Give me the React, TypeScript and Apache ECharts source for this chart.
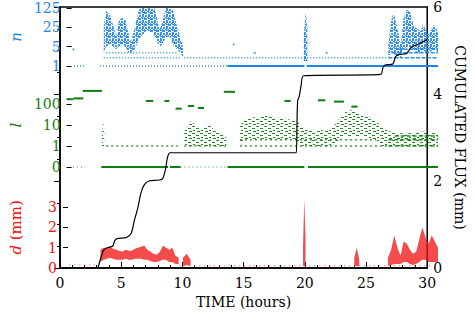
import { useEffect, useRef } from "react";
import * as echarts from "echarts";

// ---------- tick labels ----------
const xTickStep = 5;
const nTicks = [1, 5, 25, 125];
const lTicks = [0, 1, 10, 100];
const dTicks = [0, 1, 2, 3];
const fluxTickStep = 2;

// ---------- cumulated flux (mm) ----------
const fluxTime = [3.1, 3.3, 3.57, 3.9, 4.3, 4.5, 4.76, 5.42, 5.82, 6.08, 6.35, 6.61, 6.88, 7.27, 8.33, 8.6, 8.8, 9.0, 19.3, 19.36, 19.42, 19.55, 19.7, 19.9, 26.2, 26.4, 26.6, 27.2, 27.4, 27.6, 28.3, 28.5, 28.7, 29.3, 30];
const fluxValue = [0, 0.2, 0.41, 0.47, 0.5, 0.64, 0.68, 0.7, 0.8, 1.1, 1.37, 1.72, 1.91, 2.0, 2.04, 2.25, 2.56, 2.65, 2.65, 3.3, 3.85, 3.95, 4.2, 4.42, 4.45, 4.62, 4.67, 4.69, 4.85, 4.9, 4.93, 5.0, 5.08, 5.15, 5.25];

// ---------- n : clouds [time, low, high] ----------
const nCloudEarly = [[3.0, 3, 30], [3.2, 5, 100], [3.5, 6, 70], [3.8, 5, 25], [4.0, 4, 12], [4.2, 5, 40], [4.5, 6, 60], [4.75, 5, 45], [5.0, 3, 15], [5.2, 3, 7], [5.5, 4, 25], [5.8, 8, 90], [6.0, 12, 150], [6.5, 20, 160], [7.0, 15, 150], [7.2, 10, 90], [7.5, 5, 20], [7.7, 6, 35], [8.0, 10, 120], [8.3, 12, 160], [8.6, 6, 100], [8.9, 4, 30], [9.2, 3, 10], [9.4, 2, 5]];
const nCloudSpike = [[19.15, 1.5, 10], [19.3, 1.5, 80], [19.45, 1.5, 25]];
const nCloudLate = [[26.0, 2, 6], [26.2, 3, 40], [26.4, 3, 90], [26.7, 2, 25], [27.0, 2, 6], [27.2, 4, 50], [27.5, 5, 110], [27.8, 5, 80], [28.0, 4, 30], [28.3, 3, 22], [28.6, 3, 18], [28.8, 4, 35], [29.0, 3, 20], [29.3, 3, 14], [29.6, 4, 30], [29.8, 4, 28], [30.0, 3, 15]];
// n : rows [t0, t1, n]
const nRowsSolid = [[13.0, 19.2, 1], [19.4, 30, 1]];
const nRowsDotted = [[0.6, 1.5, 1], [2.7, 13.0, 1], [3.0, 9.2, 2], [3.2, 9.0, 3], [9.5, 26.0, 2]];
const nRowsDashed = [[26.0, 30, 2], [26.3, 30, 3], [26.8, 30, 4]];
const nDots = [[0.55, 4], [13.5, 6], [15.2, 3], [21.0, 3]];

// ---------- l : clouds [time, low, high] ----------
const lCloudEarly = [[2.85, 1, 3], [2.95, 1, 20], [3.05, 1, 4]];
const lCloudMid = [[9.5, 1, 6], [10.0, 1, 15], [10.5, 1, 10], [11.0, 1, 6], [11.5, 1, 12], [12.0, 1, 5], [12.5, 1, 4], [12.9, 1, 3]];
const lCloudMain = [[14.0, 1, 10], [14.5, 2, 20], [15.0, 2, 25], [15.5, 2, 20], [16.0, 2, 30], [16.5, 2, 25], [17.0, 2, 20], [17.5, 2, 25], [18.0, 2, 18], [18.5, 2, 15], [19.0, 1, 10], [19.5, 1, 6], [20.0, 1, 5], [20.5, 1, 6], [21.0, 1, 5], [21.5, 1, 8], [22.0, 2, 20], [22.5, 3, 40], [23.0, 3, 50], [23.5, 3, 35], [24.0, 3, 30], [24.5, 2, 25], [25.0, 2, 15], [25.5, 1, 8], [26.0, 1, 5], [27.0, 1, 4], [28.0, 1, 4], [29.0, 1, 5], [30.0, 1, 4]];
// l : rows [t0, t1, l]
const lHigh = [[0, 0.55, 170], [0.55, 1.35, 185], [1.3, 2.85, 420], [6.4, 7.0, 140], [7.9, 8.3, 140], [8.8, 9.3, 60], [9.8, 10.3, 80], [10.6, 11.1, 65], [12.7, 13.6, 380], [17.6, 18.1, 140], [20.3, 20.9, 150], [21.6, 22.4, 130], [23.0, 23.5, 75]];
const lZeroSolid = [[2.8, 8.2, 0], [8.35, 9.2, 0], [13.0, 19.2, 0], [19.5, 30, 0]];
const lZeroDotted = [[0.5, 1.5, 0], [9.2, 13.0, 0]];
const lRowsDotted = [[3.2, 9.0, 1], [9.5, 13.0, 1], [14.0, 26.0, 1], [14.0, 25.0, 2]];
const lRowsDashed = [[26.0, 30, 1], [26.0, 30, 2], [26.5, 30, 3]];

// ---------- d (mm) : clouds [time, low, high] ----------
const dCloudEarly = [[3.0, 0.3, 0.9], [3.25, 0.4, 1.0], [3.5, 0.45, 1.0], [3.75, 0.5, 1.05], [4.0, 0.45, 0.95], [4.25, 0.4, 0.9], [4.5, 0.4, 0.85], [4.75, 0.4, 0.8], [5.0, 0.45, 0.9], [5.25, 0.4, 0.85], [5.5, 0.4, 0.85], [5.75, 0.45, 0.95], [6.0, 0.45, 1.0], [6.25, 0.45, 1.05], [6.5, 0.4, 1.1], [6.75, 0.4, 0.9], [7.0, 0.35, 0.8], [7.25, 0.3, 0.7], [7.5, 0.3, 0.65], [7.75, 0.35, 0.8], [8.0, 0.4, 1.1], [8.25, 0.4, 1.0], [8.5, 0.3, 0.9], [8.75, 0.3, 1.0], [9.0, 0.2, 0.6], [9.25, 0.2, 0.5]];
const dCloudMid = [[9.6, 0.1, 0.5], [9.9, 0.15, 0.7], [10.2, 0.1, 0.4]];
const dCloudSpike = [[19.2, 0.1, 1.0], [19.3, 0.1, 3.4], [19.4, 0.1, 1.5]];
const dCloudSmall = [[23.3, 0.1, 0.5], [23.5, 0.1, 1.0], [23.7, 0.1, 0.4]];
const dCloudLate = [[26.0, 0.1, 0.5], [26.25, 0.15, 0.9], [26.5, 0.2, 1.6], [26.75, 0.2, 1.0], [27.0, 0.2, 0.6], [27.25, 0.3, 1.3], [27.5, 0.3, 1.2], [27.75, 0.2, 0.9], [28.0, 0.15, 0.7], [28.25, 0.2, 0.8], [28.5, 0.3, 1.4], [28.75, 0.4, 2.0], [29.0, 0.4, 1.5], [29.25, 0.3, 1.2], [29.5, 0.3, 1.6], [29.75, 0.3, 1.3], [30.0, 0.3, 1.0]];
const dRowsDotted = [[0.5, 2.8, 0.15], [9.3, 30, 0.12]];

// ---------- styling ----------
const BLUE = "#1c86e6";
const GREEN = "#0f7d0f";
const RED = "#f01010";
const FONT = "DejaVu Serif";

const ident = (v: number) => v;
const lT = (v: number) => (v === 0 ? -1 : Math.log10(v));

// texture marks (x, y, w, h) inside a small repeating tile
const speckleMarks = [[0, 0, 3, 2], [4, 0, 2, 1], [1, 3, 2, 2], [4, 2, 2, 3], [0, 5, 1, 1], [3, 5, 2, 1]];
const dashMarks = [[0, 0, 3, 1], [4, 2, 3, 1], [1, 4, 2, 1], [5, 5, 3, 1]];

function makePattern(color: string, w: number, h: number, marks: number[][]) {
  const c = document.createElement("canvas");
  c.width = w;
  c.height = h;
  const ctx = c.getContext("2d")!;
  ctx.fillStyle = color;
  marks.forEach((m) => ctx.fillRect(m[0], m[1], m[2], m[3]));
  return { image: c, repeat: "repeat", imageWidth: w, imageHeight: h };
}

function band(pieces: number[][][], xi: number, yi: number, tf: (v: number) => number, fill: any, opacity: number) {
  return {
    type: "custom", xAxisIndex: xi, yAxisIndex: yi, clip: true, silent: true,
    data: pieces.map((_, i) => [i]),
    renderItem: (params: any, api: any) => {
      const piece = pieces[params.dataIndex];
      const top = piece.map((p) => api.coord([p[0], tf(p[2])]));
      const bot = piece.slice().reverse().map((p) => api.coord([p[0], tf(p[1])]));
      return { type: "polygon", shape: { points: top.concat(bot) }, style: { fill, opacity } };
    },
  };
}

function rows(list: number[][], xi: number, yi: number, tf: (v: number) => number, color: string, width: number, dash: any, opacity = 1) {
  return {
    type: "custom", xAxisIndex: xi, yAxisIndex: yi, clip: false, silent: true,
    data: list.map((r) => [r[0], r[1], tf(r[2])]),
    encode: { x: [0, 1], y: 2 },
    renderItem: (params: any, api: any) => {
      const a = api.coord([api.value(0), api.value(2)]);
      const b = api.coord([api.value(1), api.value(2)]);
      return { type: "line", shape: { x1: a[0], y1: a[1], x2: b[0], y2: b[1] }, style: { stroke: color, lineWidth: width, lineDash: dash, opacity } };
    },
  };
}

const hiddenX = (gi: number) => ({ type: "value", gridIndex: gi, min: 0, max: 30, show: false });

export default function App() {
  const ref = useRef<HTMLDivElement>(null);
  useEffect(() => {
    document.body.style.margin = "0";
    const chart = echarts.init(ref.current!, null, { renderer: "svg" });
    const greenPattern = makePattern(GREEN, 8, 7, dashMarks);
    const bluePattern = makePattern("#2a8de8", 6, 6, speckleMarks);
    const tickStyle = { show: true, inside: true, length: 5, lineStyle: { color: "#000", width: 1 } };
    const option: any = {
      animation: false,
      backgroundColor: "#fff",
      grid: [
        { left: 60, top: 7, width: 378, height: 261, show: true, borderColor: "#000", borderWidth: 1.5, backgroundColor: "transparent" },
        { left: 60, top: 8, width: 378, height: 58 },
        { left: 60, top: 83, width: 378, height: 84 },
        { left: 60, top: 186.7, width: 378, height: 81.3 },
      ],
      xAxis: [
        {
          type: "value", gridIndex: 0, min: 0, max: 30, interval: xTickStep,
          axisLine: { show: true, lineStyle: { color: "#000", width: 1.5 } },
          axisTick: { show: true, inside: true, length: 6, lineStyle: { color: "#000" } },
          minorTick: { show: true, splitNumber: 5, length: 3, lineStyle: { color: "#000" } },
          splitLine: { show: false },
          axisLabel: { color: "#000", fontFamily: FONT, fontSize: 14, margin: 8 },
          name: "TIME (hours)", nameLocation: "middle", nameGap: 24,
          nameTextStyle: { color: "#000", fontFamily: FONT, fontSize: 14 },
        },
        hiddenX(1), hiddenX(2), hiddenX(3),
      ],
      yAxis: [
        {
          type: "log", logBase: 5, gridIndex: 1, min: nTicks[0], max: nTicks[nTicks.length - 1],
          axisLine: { show: false }, axisTick: tickStyle, splitLine: { show: false }, minorTick: { show: false },
          axisLabel: { color: BLUE, fontFamily: FONT, fontSize: 14, margin: 6, formatter: (v: number) => String(Math.round(v)) },
          name: "n", nameLocation: "middle", nameRotate: 90, nameGap: 40,
          nameTextStyle: { color: BLUE, fontFamily: FONT, fontSize: 15, fontStyle: "italic" },
        },
        {
          type: "value", gridIndex: 2, min: -1, max: 3,
          axisLine: { show: false },
          axisTick: { ...tickStyle, customValues: lTicks.map(lT) },
          splitLine: { show: false },
          axisLabel: { color: GREEN, fontFamily: FONT, fontSize: 14, margin: 6, customValues: lTicks.map(lT), formatter: (v: number) => (v < 0 ? "0" : String(Math.round(Math.pow(10, v)))) },
          name: "l", nameLocation: "middle", nameRotate: 90, nameGap: 40,
          nameTextStyle: { color: GREEN, fontFamily: FONT, fontSize: 15, fontStyle: "italic" },
        },
        {
          type: "value", gridIndex: 3, min: 0, max: 4,
          axisLine: { show: false },
          axisTick: { ...tickStyle, customValues: dTicks },
          splitLine: { show: false },
          axisLabel: { color: RED, fontFamily: FONT, fontSize: 14, margin: 6, customValues: dTicks },
          name: "{i|d} (mm)", nameLocation: "middle", nameRotate: 90, nameGap: 40,
          nameTextStyle: { color: RED, fontFamily: FONT, fontSize: 15, rich: { i: { fontStyle: "italic", color: RED, fontFamily: FONT, fontSize: 15 } } },
        },
        {
          type: "value", gridIndex: 0, position: "right", min: 0, max: 6, interval: fluxTickStep,
          axisLine: { show: true, lineStyle: { color: "#000", width: 1.5 } },
          axisTick: { show: true, inside: true, length: 6, lineStyle: { color: "#000" } },
          minorTick: { show: true, splitNumber: 4, length: 3, lineStyle: { color: "#000" } },
          splitLine: { show: false },
          axisLabel: { color: "#000", fontFamily: FONT, fontSize: 14, margin: 6 },
          name: "CUMULATED FLUX (mm)", nameLocation: "middle", nameRotate: -90, nameGap: 16,
          nameTextStyle: { color: "#000", fontFamily: FONT, fontSize: 14 },
        },
      ],
      series: [
        // n
        band([nCloudEarly, nCloudSpike, nCloudLate], 1, 0, ident, bluePattern, 0.95),
        rows(nRowsDotted, 1, 0, ident, BLUE, 1.5, [1, 2], 0.9),
        rows(nRowsDashed, 1, 0, ident, BLUE, 1.5, [4, 1.5], 0.9),
        rows(nRowsSolid, 1, 0, ident, BLUE, 2, null),
        { type: "scatter", xAxisIndex: 1, yAxisIndex: 0, data: nDots, symbolSize: 2, itemStyle: { color: BLUE }, silent: true },
        // l
        band([lCloudEarly, lCloudMid, lCloudMain], 2, 1, lT, greenPattern, 0.9),
        rows(lRowsDotted, 2, 1, lT, GREEN, 1.5, [2, 3], 0.8),
        rows(lRowsDashed, 2, 1, lT, GREEN, 1.5, [4, 2], 0.9),
        rows(lZeroDotted, 2, 1, lT, GREEN, 1.5, [1, 3], 0.6),
        rows(lZeroSolid, 2, 1, lT, GREEN, 2, null),
        rows(lHigh, 2, 1, lT, GREEN, 2, null),
        // d
        band([dCloudEarly, dCloudMid, dCloudSpike, dCloudSmall, dCloudLate], 3, 2, ident, RED, 0.75),
        rows(dRowsDotted, 3, 2, ident, "#f05050", 1.2, [1, 4], 0.8),
        // flux
        {
          type: "line", xAxisIndex: 0, yAxisIndex: 3, data: fluxTime.map((t, i) => [t, fluxValue[i]]),
          showSymbol: false, smooth: 0.25, lineStyle: { color: "#000", width: 1.2 }, silent: true, z: 10,
        },
      ],
    };
    chart.setOption(option);
    return () => chart.dispose();
  }, []);
  return <div ref={ref} style={{ width: 475, height: 315 }} />;
}
